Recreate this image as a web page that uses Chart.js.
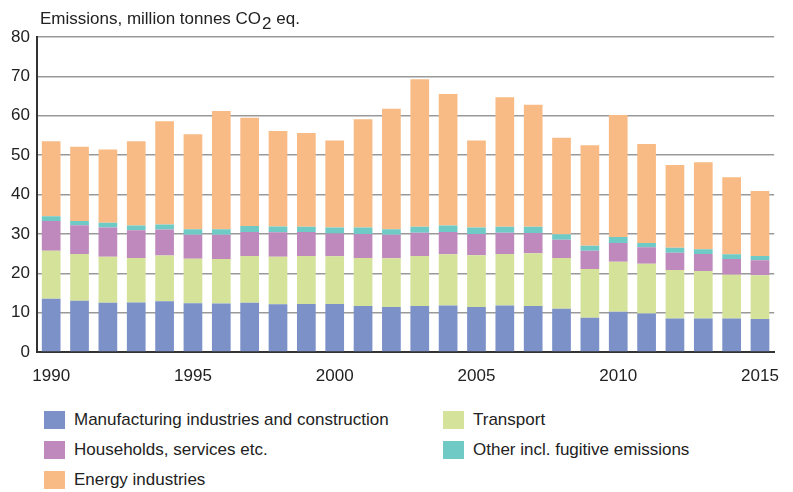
<!DOCTYPE html>
<html>
<head>
<meta charset="utf-8">
<script src="https://cdn.jsdelivr.net/npm/chart.js@4.4.1/dist/chart.umd.min.js"></script>
<style>
  body { margin: 0; background: #fff; font-family: "Liberation Sans", sans-serif; }
  #wrap { position: relative; width: 793px; height: 395px; }
  #legend { position: absolute; left: 44px; top: 410px; width: 740px; display: grid;
            grid-template-columns: 399px 330px; row-gap: 11px; font-size: 17px; color: #222; }
  #legend .item { display: flex; align-items: center; height: 19px; }
  #legend .sw { width: 21px; height: 18px; margin-right: 9px; flex: none; }
</style>
</head>
<body>
<div id="wrap"><canvas id="emChart" width="793" height="395"></canvas></div>
<div id="legend"></div>
<script>
//years on the x axis
const years = [1990,1991,1992,1993,1994,1995,1996,1997,1998,1999,2000,2001,2002,
  2003,2004,2005,2006,2007,2008,2009,2010,2011,2012,2013,2014,2015];

//series values, million tonnes CO2 eq.
const manufacturing = [13.5,13.0,12.5,12.6,12.9,12.4,12.3,12.5,12.1,12.2,12.2,11.7,11.4,
  11.7,11.8,11.4,11.8,11.7,11.0,8.7,10.2,9.8,8.5,8.5,8.5,8.4];
const transport = [12.2,11.9,11.7,11.3,11.6,11.3,11.3,11.9,12.1,12.2,12.1,12.2,12.4,
  12.7,13.0,13.2,13.1,13.4,12.9,12.4,12.7,12.6,12.3,12.1,11.1,11.1];
const households = [7.6,7.3,7.4,7.0,6.6,6.1,6.2,6.1,6.2,6.1,5.8,6.1,6.0,
  5.9,5.7,5.4,5.4,5.1,4.6,4.6,4.8,4.2,4.4,4.3,4.0,3.8];
const other = [1.2,1.1,1.2,1.2,1.3,1.4,1.4,1.5,1.5,1.3,1.5,1.6,1.4,
  1.5,1.6,1.6,1.5,1.6,1.4,1.3,1.5,1.1,1.3,1.2,1.2,1.1];
const energy = [19.0,18.8,18.6,21.4,26.2,24.1,30.0,27.5,24.2,23.8,22.1,27.5,30.6,
  37.5,33.4,22.1,32.9,31.0,24.5,25.5,31.0,25.1,21.0,22.1,19.6,16.5];

const yTicks = [0,10,20,30,40,50,60,70,80];

const series = [
  {label: "Manufacturing industries and construction", data: manufacturing, color: "#7b91c8"},
  {label: "Transport", data: transport, color: "#d5e39a"},
  {label: "Households, services etc.", data: households, color: "#bf89bd"},
  {label: "Other incl. fugitive emissions", data: other, color: "#6fcac5"},
  {label: "Energy industries", data: energy, color: "#f9bb86"}
];

const FONT = "Liberation Sans";

//draws the y axis title with a subscript 2
const titlePlugin = {
  id: "unitTitle",
  afterDraw(chart) {
    const ctx = chart.ctx;
    ctx.save();
    ctx.fillStyle = "#222";
    ctx.textBaseline = "alphabetic";
    ctx.font = "17px '" + FONT + "'";
    let x = 40, y = 24;
    const t1 = "Emissions, million tonnes CO";
    ctx.fillText(t1, x, y);
    x += ctx.measureText(t1).width;
    ctx.fillText("2", x + 1, y + 5);
    x += ctx.measureText("2").width + 1;
    ctx.fillText(" eq.", x, y);
    ctx.restore();
  }
};

new Chart("emChart", {
  type: "bar",
  data: {
    labels: years,
    datasets: series.map(s => ({
      label: s.label, data: s.data, backgroundColor: s.color,
      borderWidth: 0, barPercentage: 1, categoryPercentage: 0.66
    }))
  },
  options: {
    responsive: false,
    animation: false,
    layout: {padding: {top: 37, right: 5, left: 0, bottom: 0}},
    plugins: {legend: {display: false}, tooltip: {enabled: false}},
    scales: {
      x: {
        stacked: true,
        afterFit(scale) { scale.height = 43; },
        grid: {display: false, drawTicks: false},
        border: {color: "#333", width: 2},
        ticks: {
          autoSkip: false, maxRotation: 0, padding: 14, color: "#222",
          font: {family: FONT, size: 17},
          callback(v, i) { const y = years[i]; return y % 5 === 0 ? String(y) : ""; }
        }
      },
      y: {
        stacked: true, min: 0, max: 80,
        afterFit(scale) { scale.width = 37; },
        afterBuildTicks(scale) { scale.ticks = yTicks.map(v => ({value: v})); },
        grid: {color: "#999", lineWidth: 1.5, drawTicks: false},
        border: {color: "#333", width: 2},
        ticks: {padding: 7, color: "#222", font: {family: FONT, size: 17}}
      }
    }
  },
  plugins: [titlePlugin]
});

//legend in two columns below the chart
const legend = document.getElementById("legend");
series.forEach(s => {
  const d = document.createElement("div");
  d.className = "item";
  d.innerHTML = '<span class="sw" style="background:' + s.color + '"></span><span>' + s.label + '</span>';
  legend.appendChild(d);
});
</script>
</body>
</html>
